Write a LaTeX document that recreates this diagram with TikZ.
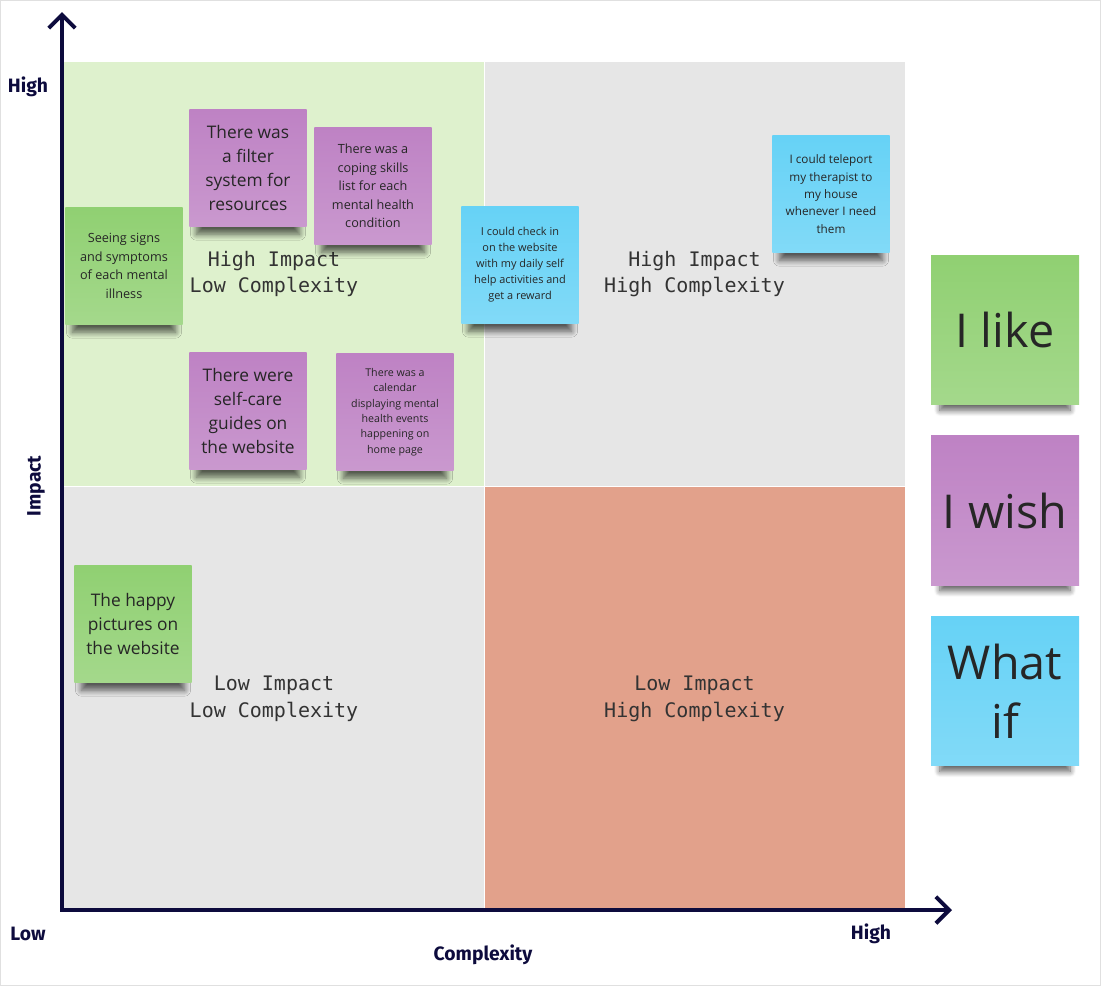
\documentclass[tikz,border=0pt]{standalone}
\usepackage{fontspec}
\setmainfont{Open Sans}
\newfontfamily\axisfont{Fira Sans}
\setmonofont{DejaVu Sans Mono}
\usetikzlibrary{arrows.meta, positioning, shadows.blur}
\definecolor{axisnavy}{HTML}{0D0B3D}
\definecolor{quadgreen}{HTML}{DEF1CD}
\definecolor{quadgrey}{HTML}{E6E6E6}
\definecolor{quadsalmon}{HTML}{E2A18B}
\definecolor{notegreen}{HTML}{90D072}
\definecolor{notepurple}{HTML}{BE82C4}
\definecolor{noteblue}{HTML}{66D2F6}
\definecolor{notetext}{HTML}{262626}

\begin{document}
\begin{tikzpicture}[
    x=0.75pt, y=-0.75pt,
    quad/.style={fill=#1, minimum width=315pt, minimum height=318pt, inner sep=0pt, align=center,
      font=\ttfamily\fontsize{15}{20}\selectfont, text=black!80},
    note/.style={top color=#1, bottom color=#1!82!white, minimum width=88pt, minimum height=88pt,
      inner sep=0pt, align=center, text=notetext,
      blur shadow={shadow xshift=0pt, shadow yshift=-12.5pt, shadow scale=0.88, shadow blur radius=5pt,
        shadow blur steps=10, shadow opacity=62}},
    bignote/.style={note=#1, minimum width=111pt, minimum height=112pt, font=\fontsize{35}{44}\selectfont},
    tinytext/.style={font=\fontsize{8.2}{12}\selectfont},
    smalltext/.style={font=\fontsize{9.5}{13.8}\selectfont},
    largetext/.style={font=\fontsize{13}{18}\selectfont},
    axislabel/.style={font=\axisfont\bfseries\fontsize{14.5}{16}\selectfont, text=axisnavy},
    axis/.style={line width=3pt, draw=axisnavy, line join=miter,
      {Straight Barb[length=10pt, width=20pt]}-{Straight Barb[length=10pt, width=20pt]}}
]
\useasboundingbox (0,0) rectangle (1101,986);
\draw[black!12, line width=0.75pt] (0.5,0.5) rectangle (1100.5,985.5);

% Quadrants
\node[quad=quadgreen] (hilo) at (274,274) {High Impact\\Low Complexity};
\node[quad=quadgrey, right=0pt of hilo] (hihi) {High Impact\\High Complexity};
\node[quad=quadgrey, below=0pt of hilo] (lolo) {Low Impact\\Low Complexity};
\node[quad=quadsalmon, right=0pt of lolo] (lohi) {Low Impact\\High Complexity};

% Axes
\coordinate (origin) at (62,910);
\coordinate (ytip) at (62,12);
\coordinate (xtip) at (952,910);
\draw[axis] (ytip) -- (origin) -- (xtip);

% Axis labels
\node[axislabel] (yhigh) at (28,87) {High};
\node[axislabel] (ylow) at (28,934) {Low};
\node[axislabel] (xhigh) at (871,934) {High};
\node[axislabel] (xname) at (483,955) {Complexity};
\node[axislabel, rotate=90] (yname) at (36,486) {Impact};

% Sticky notes
\node[note=notegreen, smalltext] (signs) at (124,266) {Seeing signs\\and symptoms\\of each mental\\illness};
\node[note=notepurple, largetext] (filter) at (248,168) {There was\\a filter\\system for\\resources};
\node[note=notepurple, smalltext] (coping) at (373,186) {There was a\\coping skills\\list for each\\mental health\\condition};
\node[note=noteblue, tinytext] (checkin) at (520,265) {I could check in\\on the website\\with my daily self\\help activities and\\get a reward};
\node[note=noteblue, tinytext, font=\fontsize{8.8}{13}\selectfont] (teleport) at (831,194) {I could teleport\\my therapist to\\my house\\whenever I need\\them};
\node[note=notepurple, largetext] (selfcare) at (248,411) {There were\\self-care\\guides on\\the website};
\node[note=notepurple, tinytext, font=\fontsize{8}{11.6}\selectfont] (calendar) at (395,412) {There was a\\calendar\\displaying mental\\health events\\happening on\\home page};
\node[note=notegreen, largetext] (happy) at (133,624) {The happy\\pictures on\\the website};

% Legend
\node[bignote=notegreen] (like) at (1005,330) {I like};
\node[bignote=notepurple, below=23pt of like] (wish) {I wish};
\node[bignote=noteblue, below=23pt of wish] (whatif) {What\\if};

\end{tikzpicture}
\end{document}
